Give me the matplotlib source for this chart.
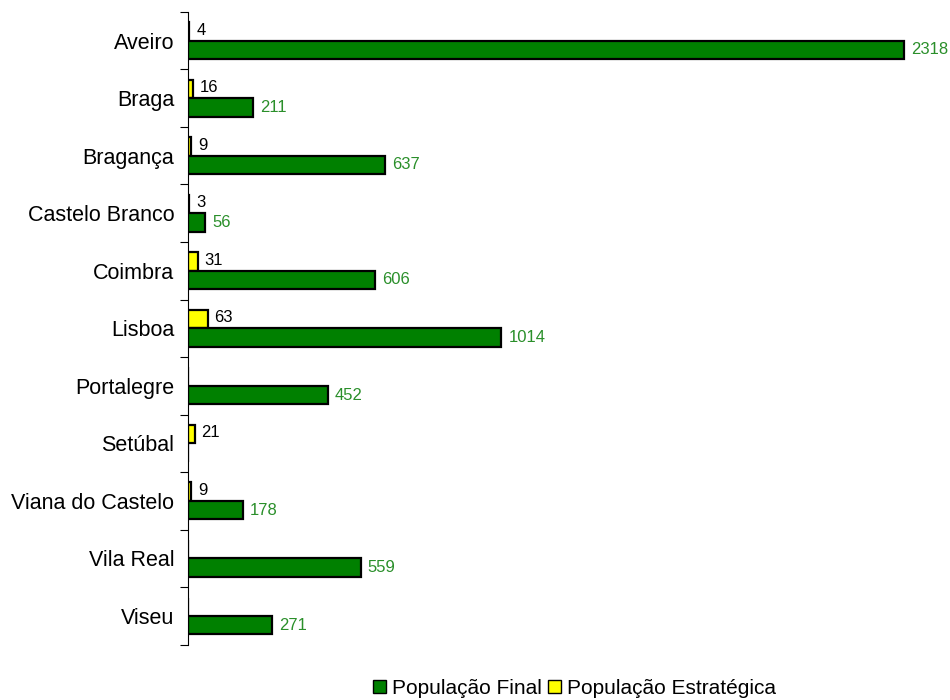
import matplotlib.pyplot as plt
import numpy as np
from matplotlib.patches import Patch

plt.rcParams['font.family'] = ['Liberation Sans', 'DejaVu Sans']

districts = ['Aveiro', 'Braga', 'Bragança', 'Castelo Branco', 'Coimbra', 'Lisboa',
             'Portalegre', 'Setúbal', 'Viana do Castelo', 'Vila Real', 'Viseu']
pop_final = [2318, 211, 637, 56, 606, 1014, 452, 0, 178, 559, 271]
pop_estrategica = [4, 16, 9, 3, 31, 63, 0, 21, 9, 0, 0]

GREEN = '#008000'
YELLOW = '#ffff00'
LABEL_GREEN = '#2a8f2a'

fig = plt.figure(figsize=(9.5, 7), dpi=100)
ax = fig.add_axes([0.198, 0.079, 0.797, 0.904])

y = np.arange(len(districts))
h = 0.32

ax.barh(y - h / 2, pop_estrategica, height=h, color=YELLOW, edgecolor='black', linewidth=1.6)
ax.barh(y + h / 2, pop_final, height=h, color=GREEN, edgecolor='black', linewidth=1.6)

for yi, v in zip(y, pop_estrategica):
    if v:
        ax.annotate(str(v), (v, yi - h / 2), xytext=(5, 1), textcoords='offset points',
                    ha='left', va='center', fontsize=12, color='black')
for yi, v in zip(y, pop_final):
    if v:
        ax.annotate(str(v), (v, yi + h / 2), xytext=(5, 0), textcoords='offset points',
                    ha='left', va='center', fontsize=12, color=LABEL_GREEN)

ax.set_ylim(len(districts) - 0.5, -0.5)
ax.set_xlim(0, 2450)

# ticks on the slot boundaries, labels in the middle
ax.set_yticks(np.arange(len(districts) + 1) - 0.5)
ax.set_yticklabels([])
ax.set_yticks(y, minor=True)
ax.set_yticklabels(districts, minor=True, fontsize=15.5)
ax.tick_params(axis='y', which='minor', length=0, pad=10)
ax.tick_params(axis='y', which='major', length=6, direction='out')

ax.set_xticks([])
ax.spines['top'].set_visible(False)
ax.spines['right'].set_visible(False)
ax.spines['bottom'].set_visible(False)

handles = [Patch(facecolor=GREEN, edgecolor='black', label='População Final'),
           Patch(facecolor=YELLOW, edgecolor='black', label='População Estratégica')]
fig.legend(handles=handles, loc='center', bbox_to_anchor=(0.605, 0.017), ncol=2,
           frameon=False, fontsize=15, handlelength=0.6, handleheight=0.6,
           handletextpad=0.3, columnspacing=0.3)

plt.savefig('out.png')
